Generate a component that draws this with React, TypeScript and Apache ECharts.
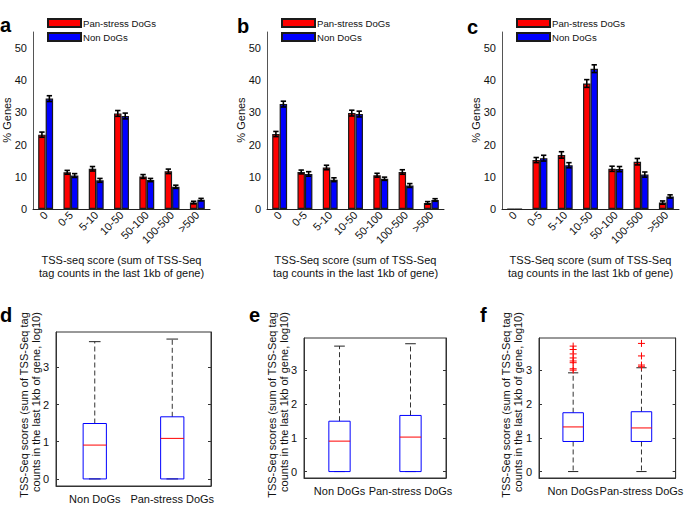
import React, { useEffect, useRef } from "react";
import * as echarts from "echarts";

const categories = ["0", "0-5", "5-10", "10-50", "50-100", "100-500", ">500"];
const seriesNames = ["Pan-stress DoGs", "Non DoGs"];
const yTicksTop = [0, 10, 20, 30, 40, 50];

const aPan = [23.1, 11.4, 12.5, 29.7, 10.1, 11.7, 2.0];
const aNon = [34.3, 10.4, 8.9, 28.9, 9.0, 6.9, 2.9];
const aPanErr = [0.8, 0.6, 0.7, 0.9, 0.6, 0.7, 0.4];
const aNonErr = [0.9, 0.6, 0.6, 0.9, 0.5, 0.5, 0.4];

const bPan = [23.3, 11.5, 12.9, 29.8, 10.5, 11.5, 1.9];
const bNon = [32.6, 10.9, 9.1, 29.5, 9.4, 7.3, 2.8];
const bPanErr = [0.8, 0.6, 0.7, 0.9, 0.6, 0.7, 0.4];
const bNonErr = [0.9, 0.7, 0.6, 0.9, 0.5, 0.6, 0.4];

const cPan = [0, 15.2, 16.8, 39.0, 12.5, 14.7, 2.0];
const cNon = [0, 15.8, 13.6, 43.6, 12.4, 10.7, 3.9];
const cPanErr = [0, 0.8, 1.0, 1.2, 0.8, 1.0, 0.5];
const cNonErr = [0, 0.9, 0.8, 1.2, 0.8, 0.8, 0.5];

const boxCats = ["Non DoGs", "Pan-stress DoGs"];
const boxTicks = [0, 1, 2, 3];
// [lower whisker, Q1, median, Q3, upper whisker]
const dNon = [0, 0, 0.91, 1.49, 3.69];
const dPan = [0, 0, 1.09, 1.67, 3.76];
const eNon = [0, 0, 0.9, 1.49, 3.71];
const ePan = [0, 0, 1.02, 1.66, 3.78];
const fNon = [0, 0.89, 1.32, 1.74, 2.92];
const fPan = [0, 0.89, 1.29, 1.77, 3.07];
const fNonOut = [3.0, 3.04, 3.22, 3.27, 3.36, 3.48, 3.61, 3.71];
const fPanOut = [3.1, 3.15, 3.42, 3.79];

const FONT = "Liberation Sans, Arial, Helvetica, sans-serif";
const GAP = 0.41;

const topGrids = [
  { left: 33, top: 32, width: 177, height: 177 },
  { left: 267, top: 32, width: 177, height: 177 },
  { left: 502, top: 32, width: 177, height: 177 },
];
const boxGrids = [
  { left: 56, top: 332, width: 155, height: 154 },
  { left: 304, top: 338, width: 142, height: 140 },
  { left: 539, top: 338, width: 142, height: 140 },
];

function errRender(params: any, api: any) {
  const ci = api.value(0);
  const v = api.value(1);
  const e = api.value(2);
  const side = api.value(3);
  if (!(e > 0)) return { type: "group", children: [] };
  const band = api.size([1, 0])[0];
  const bw = (band * (1 - GAP)) / 2;
  const off = (side * bw) / 2;
  const top = api.coord([ci, v + e]);
  const bot = api.coord([ci, v - e]);
  const x = top[0] + off;
  const cw = bw * 0.36;
  const st = { stroke: "#000", lineWidth: 1.6 };
  return {
    type: "group",
    children: [
      { type: "line", shape: { x1: x, y1: top[1], x2: x, y2: bot[1] }, style: st },
      { type: "line", shape: { x1: x - cw, y1: top[1], x2: x + cw, y2: top[1] }, style: st },
      { type: "line", shape: { x1: x - cw, y1: bot[1], x2: x + cw, y2: bot[1] }, style: st },
    ],
  };
}

function boxRender(params: any, api: any) {
  const ci = api.value(0);
  const band = api.size([1, 0])[0];
  const hw = band * 0.15;
  const cap = hw * 0.5;
  const pLo = api.coord([ci, api.value(1)]);
  const pQ1 = api.coord([ci, api.value(2)]);
  const pMed = api.coord([ci, api.value(3)]);
  const pQ3 = api.coord([ci, api.value(4)]);
  const pHi = api.coord([ci, api.value(5)]);
  const x = pLo[0];
  const wst = { stroke: "#333", lineWidth: 1, lineDash: [5, 3] };
  const cst = { stroke: "#222", lineWidth: 1 };
  const children: any[] = [];
  if (pLo[1] - pQ1[1] > 0.5)
    children.push({ type: "line", shape: { x1: x, y1: pQ1[1], x2: x, y2: pLo[1] }, style: wst });
  children.push({ type: "line", shape: { x1: x, y1: pQ3[1], x2: x, y2: pHi[1] }, style: wst });
  children.push({ type: "line", shape: { x1: x - cap, y1: pHi[1], x2: x + cap, y2: pHi[1] }, style: cst });
  children.push({ type: "line", shape: { x1: x - cap, y1: pLo[1], x2: x + cap, y2: pLo[1] }, style: cst });
  children.push({
    type: "rect",
    shape: { x: x - hw, y: pQ3[1], width: hw * 2, height: pQ1[1] - pQ3[1] },
    style: { fill: "none", stroke: "#0000ff", lineWidth: 1 },
  });
  children.push({
    type: "line",
    shape: { x1: x - hw, y1: pMed[1], x2: x + hw, y2: pMed[1] },
    style: { stroke: "#ff0000", lineWidth: 1 },
  });
  return { type: "group", children };
}

function outRender(params: any, api: any) {
  const p = api.coord([api.value(0), api.value(1)]);
  const s = 3.5;
  const st = { stroke: "#ff0000", lineWidth: 1 };
  return {
    type: "group",
    children: [
      { type: "line", shape: { x1: p[0] - s, y1: p[1], x2: p[0] + s, y2: p[1] }, style: st },
      { type: "line", shape: { x1: p[0], y1: p[1] - s, x2: p[0], y2: p[1] + s }, style: st },
    ],
  };
}

export default function App() {
  const ref = useRef<HTMLDivElement>(null);
  useEffect(() => {
    if (!ref.current) return;
    const chart = echarts.init(ref.current, undefined, { renderer: "svg" });
    const topData = [
      [aPan, aNon, aPanErr, aNonErr],
      [bPan, bNon, bPanErr, bNonErr],
      [cPan, cNon, cPanErr, cNonErr],
    ];
    const boxData = [
      [dNon, dPan],
      [eNon, ePan],
      [fNon, fPan],
    ];

    const grid: any[] = [];
    const xAxis: any[] = [];
    const yAxis: any[] = [];
    const series: any[] = [];
    const legend: any[] = [];

    topGrids.forEach((g, i) => {
      grid.push({ ...g });
      xAxis.push({
        type: "category",
        gridIndex: i,
        data: categories,
        axisLine: { lineStyle: { color: "#222", width: 1 } },
        axisTick: { show: false },
        axisLabel: { rotate: 45, interval: 0, fontSize: 11, color: "#111", fontFamily: FONT, margin: 4 },
      });
      yAxis.push({
        type: "value",
        gridIndex: i,
        min: 0,
        max: 55,
        axisLine: { show: true, lineStyle: { color: "#555", width: 1 } },
        axisTick: { show: false },
        splitLine: { show: false },
        axisLabel: { customValues: yTicksTop, fontSize: 11, color: "#111", fontFamily: FONT, margin: 6 },
      });
      const [pan, non, panE, nonE] = topData[i];
      series.push({
        name: seriesNames[0],
        type: "bar",
        xAxisIndex: i,
        yAxisIndex: i,
        data: pan,
        barGap: "0%",
        barCategoryGap: GAP * 100 + "%",
        itemStyle: { color: "#ff0000", borderColor: "#1a1a1a", borderWidth: 1.2 },
      });
      series.push({
        name: seriesNames[1],
        type: "bar",
        xAxisIndex: i,
        yAxisIndex: i,
        data: non,
        barGap: "0%",
        barCategoryGap: GAP * 100 + "%",
        itemStyle: { color: "#0000ff", borderColor: "#1a1a1a", borderWidth: 1.2 },
      });
      const errRows: any[] = [];
      pan.forEach((v: number, k: number) => errRows.push([k, v, panE[k], -1]));
      non.forEach((v: number, k: number) => errRows.push([k, v, nonE[k], 1]));
      series.push({
        type: "custom",
        xAxisIndex: i,
        yAxisIndex: i,
        data: errRows,
        encode: { x: 0, y: 1 },
        renderItem: errRender,
        z: 10,
        silent: true,
      });
      legend.push({
        data: seriesNames,
        orient: "vertical",
        left: g.left + 14,
        top: 18,
        padding: 0,
        itemWidth: 33,
        itemHeight: 8,
        itemGap: 4,
        icon: "rect",
        selectedMode: false,
        textStyle: { fontSize: 9.6, color: "#111", fontFamily: FONT, padding: [0, 0, 0, -3] },
      });
    });

    boxGrids.forEach((g, j) => {
      const gi = 3 + j;
      grid.push({ ...g, show: true, borderColor: "#333", borderWidth: 1, backgroundColor: "transparent" });
      xAxis.push({
        type: "category",
        gridIndex: gi,
        data: boxCats,
        axisLine: { onZero: false, lineStyle: { color: "#333", width: 1 } },
        axisTick: { inside: true, length: 3, alignWithLabel: true, lineStyle: { color: "#333" } },
        axisLabel: { interval: 0, fontSize: 11, color: "#111", fontFamily: FONT, margin: 7 },
      });
      yAxis.push({
        type: "value",
        gridIndex: gi,
        min: -0.19,
        max: 3.95,
        axisLine: { show: true, onZero: false, lineStyle: { color: "#333", width: 1 } },
        axisTick: { show: true, inside: true, length: 3, customValues: boxTicks, lineStyle: { color: "#333" } },
        splitLine: { show: false },
        axisLabel: { customValues: boxTicks, fontSize: 11, color: "#111", fontFamily: FONT, margin: 7 },
      });
      yAxis.push({
        type: "value",
        gridIndex: gi,
        position: "right",
        min: -0.19,
        max: 3.95,
        axisLine: { show: true, onZero: false, lineStyle: { color: "#333", width: 1 } },
        axisTick: { show: true, inside: true, length: 3, customValues: boxTicks, lineStyle: { color: "#333" } },
        splitLine: { show: false },
        axisLabel: { show: false },
      });
    });

    boxGrids.forEach((g, j) => {
      const xi = 3 + j;
      const yi = 3 + j * 2;
      const [non, pan] = boxData[j];
      series.push({
        type: "custom",
        xAxisIndex: xi,
        yAxisIndex: yi,
        data: [
          [0, ...non],
          [1, ...pan],
        ],
        encode: { x: 0, y: [1, 2, 3, 4, 5] },
        renderItem: boxRender,
        silent: true,
        z: 5,
      });
      if (j === 2) {
        const outs: any[] = [];
        fNonOut.forEach((v) => outs.push([0, v]));
        fPanOut.forEach((v) => outs.push([1, v]));
        series.push({
          type: "custom",
          xAxisIndex: xi,
          yAxisIndex: yi,
          data: outs,
          encode: { x: 0, y: 1 },
          renderItem: outRender,
          silent: true,
          z: 6,
        });
      }
    });

    const txt = (x: number, y: number, text: string, extra: any = {}, rot = 0) => ({
      type: "text",
      x,
      y,
      rotation: rot,
      style: {
        text,
        fontSize: 11,
        fontFamily: FONT,
        fill: "#111",
        align: "center",
        verticalAlign: "middle",
        ...extra,
      },
    });
    const letter = (x: number, y: number, t: string) =>
      txt(x, y, t, { fontSize: 20, fontWeight: "bold", align: "left", verticalAlign: "alphabetic", fill: "#000" });

    const graphic: any[] = [
      letter(0, 15, "a"),
      letter(237, 16, "b"),
      letter(467, 17, "c"),
      letter(0, 305, "d"),
      letter(249, 305, "e"),
      letter(480, 305, "f"),
      txt(6.5, 120, "% Genes", {}, Math.PI / 2),
      txt(241, 120, "% Genes", {}, Math.PI / 2),
      txt(476, 120, "% Genes", {}, Math.PI / 2),
      txt(121.5, 260, "TSS-seq score (sum of TSS-Seq"),
      txt(121.5, 273, "tag counts in the last 1kb of gene)"),
      txt(355.5, 260, "TSS-Seq score (sum of TSS-Seq"),
      txt(355.5, 273, "tag counts in the last 1kb of gene)"),
      txt(590.5, 260, "TSS-Seq score (sum of TSS-Seq"),
      txt(590.5, 273, "tag counts in the last 1kb of gene)"),
      txt(24, 405, "TSS-Seq scores (sum of TSS-Seq tag", {}, Math.PI / 2),
      txt(36, 402, "counts in the last 1kb of gene, log10)", {}, Math.PI / 2),
      txt(272, 405, "TSS-Seq scores (sum of TSS-Seq tag", {}, Math.PI / 2),
      txt(284, 402, "counts in the last 1kb of gene, log10)", {}, Math.PI / 2),
      txt(506, 405, "TSS-Seq scores (sum of TSS-Seq tag", {}, Math.PI / 2),
      txt(518, 402, "counts in the last 1kb of gene, log10)", {}, Math.PI / 2),
    ];

    chart.setOption({
      animation: false,
      backgroundColor: "#ffffff",
      textStyle: { fontFamily: FONT },
      grid,
      xAxis,
      yAxis,
      legend,
      series,
      graphic,
    });
    return () => chart.dispose();
  }, []);
  return <div ref={ref} style={{ position: "fixed", left: 0, top: 0, width: 685, height: 507 }} />;
}
